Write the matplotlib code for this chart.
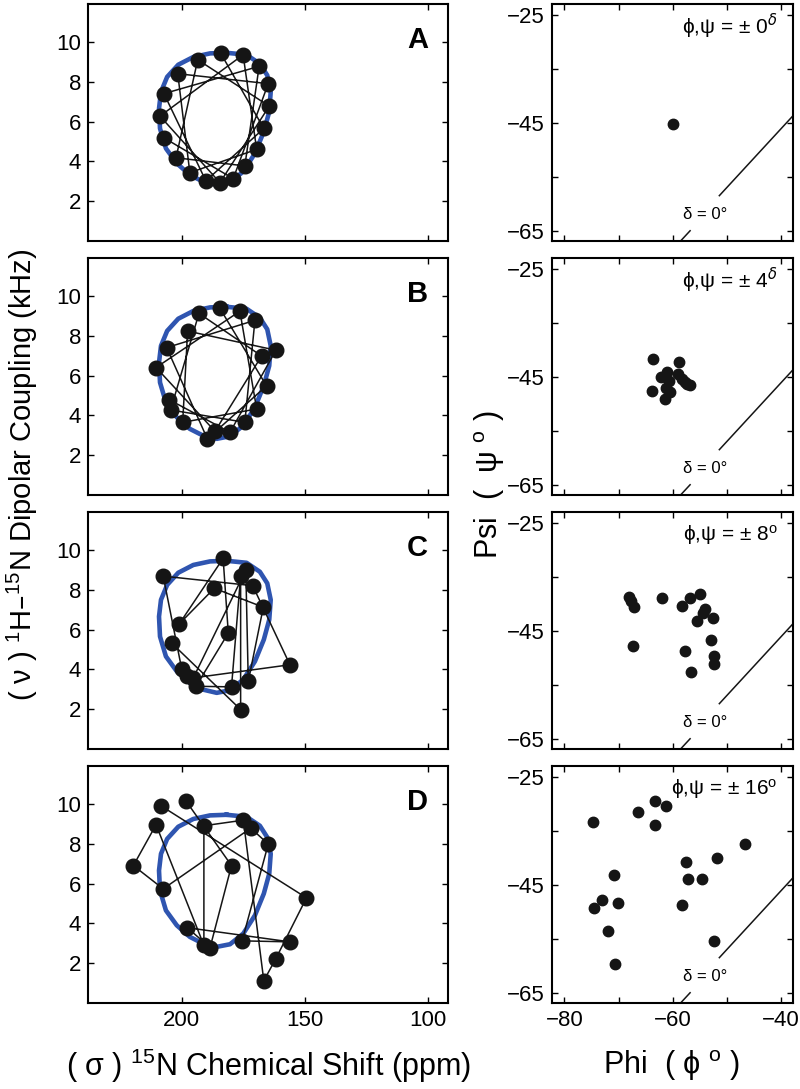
import numpy as np
import matplotlib
matplotlib.use('Agg')
import matplotlib.pyplot as plt

plt.rcParams['font.family'] = ['Liberation Sans', 'DejaVu Sans']
plt.rcParams['mathtext.fontset'] = 'dejavusans'

# blue ideal wheel (15N shift ppm, dipolar coupling kHz)
wheel_cs = [181.8, 173.7, 168.3, 165.3, 163.9, 164.5, 166.7, 170.3, 175.0, 180.4, 185.8, 191.3,
            196.7, 202.0, 206.4, 208.8, 209.2, 208.4, 205.9, 201.4, 195.3, 188.5, 181.8]
wheel_dc = [9.45, 9.35, 8.90, 8.32, 7.49, 6.49, 5.49, 4.40, 3.49, 2.95, 2.82, 2.98,
            3.32, 3.90, 4.65, 5.65, 6.65, 7.49, 8.24, 8.85, 9.24, 9.42, 9.45]

# residues in sequence order
cs_A = [184.2, 166.7, 190.2, 207.2, 168.6, 174.4, 202.3, 193.5, 164.5,
        184.5, 208.8, 175.1, 169.6, 196.7, 201.6, 164.9, 179.1, 207.2]
dc_A = [9.43, 5.65, 3.02, 7.40, 8.77, 3.77, 4.18, 9.10, 6.77,
        2.93, 6.27, 9.35, 4.60, 3.43, 8.40, 7.90, 3.13, 5.18]

cs_B = [184.5, 165.6, 189.6, 206.1, 170.3, 174.4, 204.5, 193.0, 167.6,
        186.5, 210.4, 176.4, 169.6, 199.6, 197.6, 161.8, 180.4, 205.0]
dc_B = [9.37, 5.48, 2.82, 7.40, 8.77, 3.65, 4.27, 9.12, 6.98,
        3.20, 6.40, 9.23, 4.32, 3.65, 8.23, 7.27, 3.15, 4.78]

cs_C = [198.0, 200.0, 207.5, 171.2, 156.1, 195.3, 174.0, 173.0, 166.9,
        186.8, 201.0, 183.2, 181.1, 194.2, 179.8, 176.1, 176.1, 204.1]
dc_C = [3.65, 4.02, 8.68, 8.20, 4.23, 3.57, 8.98, 3.40, 7.12,
        8.07, 6.28, 9.57, 5.82, 3.15, 3.12, 8.68, 1.98, 5.32]

cs_D = [208.4, 149.4, 161.8, 166.7, 175.0, 191.0, 191.0, 210.4, 219.6,
        207.5, 172.0, 164.9, 175.5, 156.1, 197.7, 188.5, 179.8, 198.3]
dc_D = [9.90, 5.28, 2.23, 1.12, 9.18, 8.90, 2.90, 8.95, 6.90,
        5.73, 8.78, 7.98, 3.12, 3.07, 3.78, 2.78, 6.90, 10.15]

# backbone torsions
phi_A = [-60.0]
psi_A = [-45.2]

phi_B = [-63.7, -63.9, -58.9, -62.1, -61.0, -60.7, -61.3, -60.6, -61.5, -59.0, -58.3, -57.4, -56.9, -57.7]
psi_B = [-41.6, -47.5, -42.1, -45.0, -44.1, -45.6, -46.9, -47.8, -49.1, -44.4, -45.3, -46.3, -46.4, -45.9]

phi_C = [-68.1, -67.7, -67.2, -67.4, -62.0, -58.3, -56.9, -54.9, -54.0, -54.5, -55.5, -52.5, -52.9,
         -57.7, -52.3, -52.3, -56.6]
psi_C = [-38.6, -39.4, -40.5, -47.8, -38.9, -40.3, -38.9, -38.0, -40.8, -41.7, -43.1, -42.5, -46.6,
         -48.6, -49.6, -51.1, -52.6]

phi_D = [-74.7, -66.4, -63.2, -61.2, -63.2, -46.7, -51.8, -57.6, -57.1, -54.6, -58.3, -52.3, -70.9,
         -73.1, -74.5, -70.1, -72.0, -70.6]
psi_D = [-33.3, -31.4, -29.4, -30.4, -33.8, -37.3, -39.9, -40.6, -43.9, -43.9, -48.6, -55.4, -43.1,
         -47.8, -49.2, -48.3, -53.4, -59.5]

# delta = 0 reference line (broken for its label)
delta_phi = [-37.8, -51.4, np.nan, -56.8, -59.3]
delta_psi = [-43.6, -58.4, np.nan, -64.9, -67.6]

letters = ['A', 'B', 'C', 'D']
spreads = ['0$^{\\delta}$', '4$^{\\delta}$', '8$\\mathregular{^{o}}$', '16$\\mathregular{^{o}}$']
cs_all = [cs_A, cs_B, cs_C, cs_D]
dc_all = [dc_A, dc_B, dc_C, dc_D]
phi_all = [phi_A, phi_B, phi_C, phi_D]
psi_all = [psi_A, psi_B, psi_C, psi_D]

W, H = 800, 1089
fig = plt.figure(figsize=(W / 100, H / 100), dpi=100)
row_top = [4, 258, 512, 766]
row_h = 237
dark = '#151515'

for i in range(4):
    b = 1 - (row_top[i] + row_h) / H
    axl = fig.add_axes([88 / W, b, 360 / W, row_h / H])
    axr = fig.add_axes([552 / W, b, 241 / W, row_h / H])

    axl.plot(wheel_cs, wheel_dc, color='#2f55b0', lw=3.3, zorder=1)
    axl.plot(cs_all[i], dc_all[i], '-', color=dark, lw=1.1, zorder=2)
    axl.plot(cs_all[i], dc_all[i], 'o', color=dark, ms=10.5, zorder=3)
    axl.set_xlim(238, 92)
    axl.set_ylim(0, 11.9)
    axl.set_xticks([200, 150, 100])
    axl.set_yticks([2, 4, 6, 8, 10])
    axl.text(0.915, 0.85, letters[i], transform=axl.transAxes, ha='center', va='center',
             fontsize=21, fontweight='bold')

    axr.plot(phi_all[i], psi_all[i], 'o', color=dark, ms=7.5)
    axr.plot(delta_phi, delta_psi, color=dark, lw=1.1)
    axr.text(-54.0, -61.9, 'δ = 0°', ha='center', va='center', fontsize=12)
    axr.text(0.935, 0.905, 'ϕ,ψ = ± ' + spreads[i], transform=axr.transAxes,
             ha='right', va='center', fontsize=15)
    axr.set_xlim(-82.3, -37.8)
    axr.set_ylim(-66.8, -22.9)
    axr.set_xticks([-80, -70, -60, -50, -40])
    axr.set_xticklabels(['\u221280', '', '\u221260', '', '\u221240'])
    axr.set_yticks([-65, -55, -45, -35, -25])
    axr.set_yticklabels(['\u221265', '', '\u221245', '', '\u221225'])

    for ax in (axl, axr):
        ax.tick_params(direction='in', top=True, right=True, length=4, width=1,
                       labelsize=16, pad=5)
        for s in ax.spines.values():
            s.set_linewidth(1.5)
        if i < 3:
            ax.tick_params(labelbottom=False)

fig.text(268 / W, 1 - 1066 / H, '( σ ) $\\mathregular{^{15}}$N Chemical Shift (ppm)',
         ha='center', va='center', fontsize=22)
fig.text(672 / W, 1 - 1066 / H, 'Phi  ( ϕ $\\mathregular{^{o}}$ )',
         ha='center', va='center', fontsize=22)
fig.text(22 / W, 1 - 475 / H,
         '( ν ) $\\mathregular{^{1}}$H\u2013$\\mathregular{^{15}}$N Dipolar Coupling (kHz)',
         ha='center', va='center', rotation=90, fontsize=21)
fig.text(490 / W, 1 - 485 / H, 'Psi  (  ψ $\\mathregular{^{o}}$ )',
         ha='center', va='center', rotation=90, fontsize=22)

fig.savefig('out.png', dpi=100)
